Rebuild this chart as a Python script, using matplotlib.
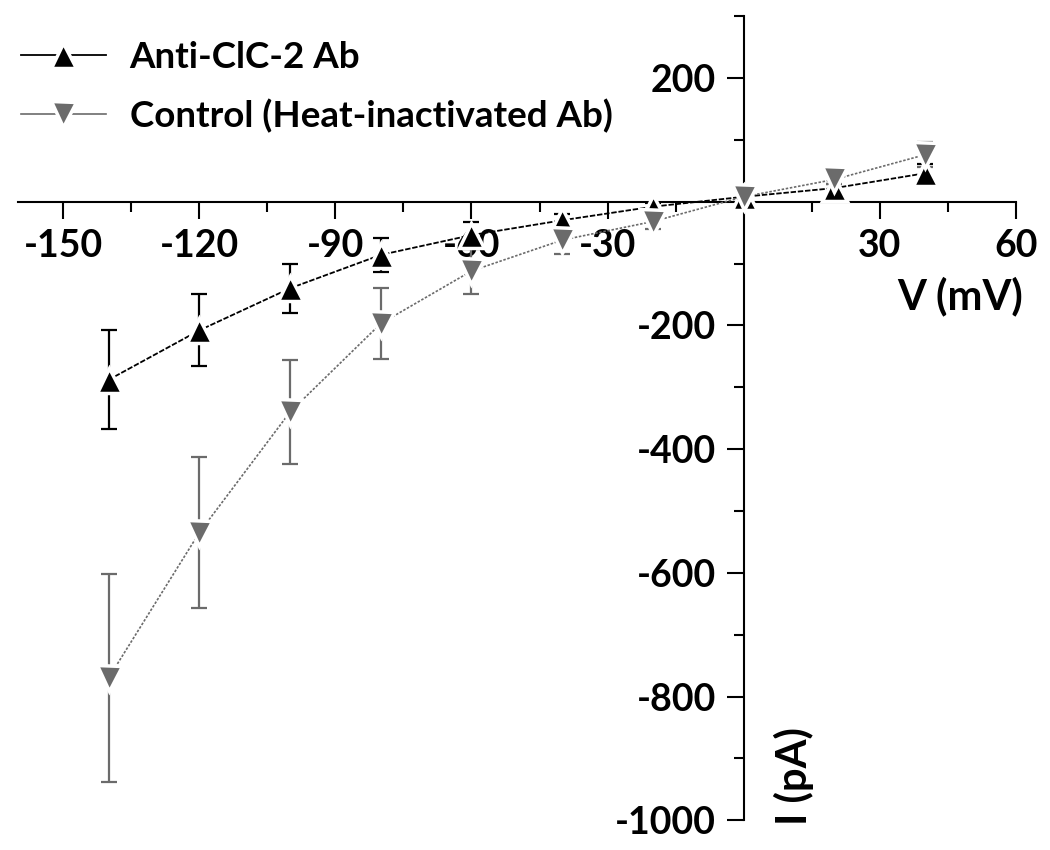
#!/usr/bin/env python3

import numpy as np
import matplotlib
matplotlib.use("Agg")
import matplotlib.pyplot as plt
from matplotlib.lines import Line2D
from matplotlib.ticker import MultipleLocator, FixedLocator


# ---------------------------
# DATA
# ---------------------------

voltage_mv = [-140, -120, -100, -80, -60, -40, -20, 0, 20, 40]

anti_current = [-288, -208, -140, -86, -54, -30, -8, 8, 22, 46]
anti_err = [80, 58, 40, 27, 22, 10, 6, 4, 6, 15]

control_current = [-770, -535, -340, -197, -112, -62, -32, 8, 36, 76]
control_err = [168, 122, 84, 57, 38, 22, 12, 4, 8, 20]

series_labels = ["Anti-ClC-2 Ab", "Control (Heat-inactivated Ab)"]

x_ticks = [-150, -120, -90, -60, -30, 30, 60]
y_ticks = [200, -200, -400, -600, -800, -1000]

GRAY = "#6b6b6b"


def main():

    plt.rcParams["font.family"] = ["Lato", "DejaVu Sans"]
    plt.rcParams["font.weight"] = "bold"
    plt.rcParams["axes.unicode_minus"] = False

    fig = plt.figure(figsize=(10.5, 8.5), dpi=100)
    ax = fig.add_axes([0.017, 0.035, 0.9505, 0.946])

    # ---------------------------
    # ERROR BARS
    # ---------------------------

    ax.errorbar(voltage_mv, anti_current, yerr=anti_err, fmt="none",
                ecolor="black", elinewidth=1.6, capsize=5.5, capthick=1.6,
                zorder=2)
    ax.errorbar(voltage_mv, control_current, yerr=control_err, fmt="none",
                ecolor=GRAY, elinewidth=1.6, capsize=5.5, capthick=1.6,
                zorder=2)

    # ---------------------------
    # LINES + MARKERS
    # ---------------------------

    ax.plot(voltage_mv, anti_current, color="black", lw=1.3,
            linestyle=(0, (3, 1)), marker="^", ms=18, mfc="black",
            mec="white", mew=2.5, zorder=3)
    ax.plot(voltage_mv, control_current, color=GRAY, lw=1.2,
            linestyle=(0, (1.5, 1)), marker="v", ms=18, mfc=GRAY,
            mec="white", mew=2.5, zorder=4)

    # ---------------------------
    # AXES THROUGH THE ORIGIN
    # ---------------------------

    ax.set_xlim(-160, 60)
    ax.set_ylim(-1000, 300)

    for side in ["top", "right"]:
        ax.spines[side].set_visible(False)
    ax.spines["left"].set_position(("data", 0))
    ax.spines["bottom"].set_position(("data", 0))
    for side in ["left", "bottom"]:
        ax.spines[side].set_linewidth(1.5)

    ax.xaxis.set_major_locator(FixedLocator(x_ticks))
    ax.xaxis.set_minor_locator(MultipleLocator(15))
    ax.yaxis.set_major_locator(FixedLocator(y_ticks))
    ax.yaxis.set_minor_locator(MultipleLocator(100))

    ax.tick_params(axis="both", which="major", direction="out", length=12,
                   width=1.5, labelsize=27, pad=8)
    ax.tick_params(axis="both", which="minor", direction="out", length=7,
                   width=1.5)
    for lab in ax.get_xticklabels() + ax.get_yticklabels():
        lab.set_fontweight("bold")

    ax.set_xlabel("V (mV)", fontsize=30, fontweight="bold", va="center")
    ax.xaxis.set_label_coords(0.944, 0.652)
    ax.set_ylabel("I (pA)", fontsize=30, fontweight="bold", va="center")
    ax.yaxis.set_label_coords(0.778, 0.055)

    # ---------------------------
    # LEGEND
    # ---------------------------

    handles = [
        Line2D([], [], color="black", lw=1.3, marker="^", ms=18,
               mfc="black", mec="white", mew=2.5),
        Line2D([], [], color=GRAY, lw=1.2, marker="v", ms=18,
               mfc=GRAY, mec="white", mew=2.5),
    ]
    ax.legend(handles, series_labels, loc="upper left",
              bbox_to_anchor=(0.02, 0.952), bbox_transform=fig.transFigure,
              frameon=False, handlelength=2.3, handletextpad=0.65,
              labelspacing=0.68, borderaxespad=0.0, borderpad=0.0,
              prop={"size": 26.5, "weight": "bold"})

    fig.savefig("out.png", dpi=100, facecolor="white")
    plt.close(fig)


if __name__ == "__main__":
    main()
